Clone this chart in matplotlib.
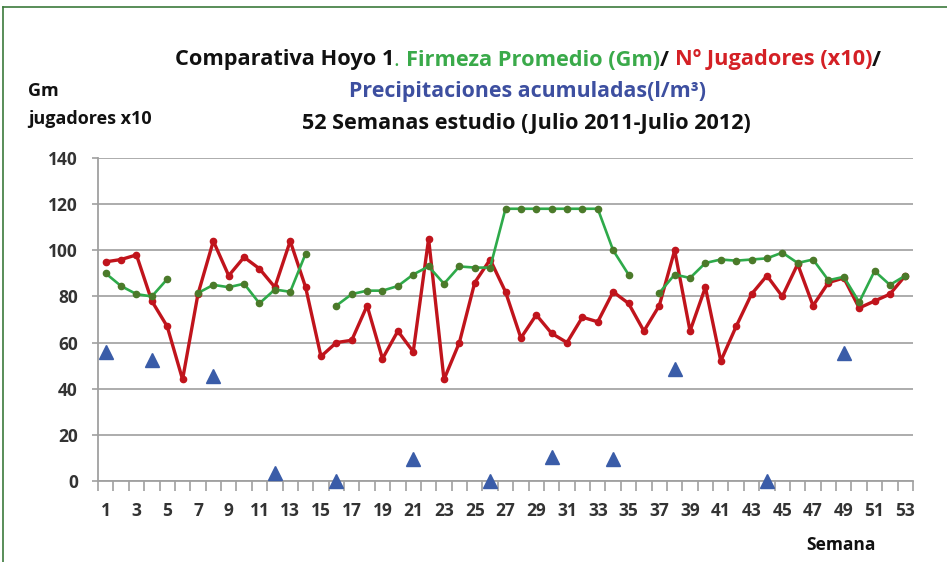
import numpy as np
import matplotlib.pyplot as plt

nan = np.nan

semanas = list(range(1, 54))

# Nº jugadores (x10)
jugadores = [95, 96, 98, 78, 67, 44, 81, 104, 89, 97,
             92, 84, 104, 84, 54, 60, 61, 76, 53, 65,
             56, 105, 44, 60, 86, 96, 82, 62, 72, 64,
             60, 71, 69, 82, 77, 65, 76, 100, 65, 84,
             52, 67, 81, 89, 80, 94, 76, 86, 88, 75,
             78, 81, 89]

# Firmeza promedio (Gm)
firmeza = [90, 84.5, 81, 80, 87.5, nan, 81.5, 85, 84, 85.5,
           77, 83, 82, 98.5, nan, 76, 81, 82.5, 82.5, 84.5,
           89.5, 93, 85.5, 93, 92.5, 92.5, 118, 118, 118, 118,
           118, 118, 118, 100, 89.5, nan, 81.5, 89.5, 88, 94.5,
           96, 95.5, 96, 96.5, 99, 94.5, 96, 87, 88.5, 77.5,
           91, 85, 89]

# Precipitaciones acumuladas (l/m3)
precip_semanas = [1, 4, 8, 12, 16, 21, 26, 30, 34, 38, 44, 49]
precip_valores = [56, 52.5, 45.5, 3.5, 0, 9.5, 0, 10.5, 9.5, 48.5, 0, 55.5]

FONT = 'Open Sans'
plt.rcParams['font.family'] = [FONT, 'DejaVu Sans']

fig = plt.figure(figsize=(9.47, 5.62), dpi=100)
ax = fig.add_axes([98 / 947, 81 / 562, 815 / 947, 323 / 562])

ax.plot(semanas, jugadores, '-o', color='#C0141C', lw=2.4, markersize=4.5, zorder=3)
ax.plot(semanas, firmeza, '-', color='#2EAA4A', lw=1.9, zorder=4)
ax.plot(semanas, firmeza, 'o', color='#4B7A2A', markersize=4.5, zorder=4)
ax.plot(precip_semanas, precip_valores, '^', color='#3A5CA8', markersize=9.5,
        linestyle='none', zorder=5, clip_on=False)

ax.set_xlim(0.5, 53.5)
ax.set_ylim(0, 140)
ax.set_yticks(range(0, 141, 20))
ax.set_xticks(semanas[::2])
ax.set_xticks(np.arange(0.5, 54, 1), minor=True)
ax.tick_params(axis='x', which='major', length=0, pad=15, labelsize=12.5,
               labelcolor='#333333')
ax.tick_params(axis='x', which='minor', length=7, width=1.2, color='#A0A0A0',
               direction='out')
ax.tick_params(axis='y', length=4.5, width=1.2, color='#A0A0A0', pad=10,
               labelsize=12.5, labelcolor='#333333')
for lab in ax.get_xticklabels() + ax.get_yticklabels():
    lab.set_fontweight('bold')

ax.grid(True, axis='y', color='#A6A6A6', lw=1.3)
ax.set_axisbelow(True)
for s in ['top', 'right']:
    ax.spines[s].set_visible(False)
for s in ['left', 'bottom']:
    ax.spines[s].set_color('#A0A0A0')
    ax.spines[s].set_linewidth(1.3)

# outer frame (partly cropped in the original)
fig.add_artist(plt.Line2D([3 / 947, 3 / 947], [0, 1 - 7 / 562], color='#3C7A3C',
                          lw=1.2, transform=fig.transFigure))
fig.add_artist(plt.Line2D([3 / 947, 1], [1 - 7 / 562, 1 - 7 / 562], color='#3C7A3C',
                          lw=1.2, transform=fig.transFigure))


def multicolor_line(parts, xc, y, size):
    renderer = fig.canvas.get_renderer()
    texts = []
    for txt, col, w in parts:
        t = fig.text(0, y, txt, color=col, fontsize=size, fontweight=w,
                     va='center', ha='left')
        texts.append(t)
    widths = [t.get_window_extent(renderer).width for t in texts]
    total = sum(widths)
    x = xc * 947 - total / 2
    for t, w in zip(texts, widths):
        t.set_x(x / 947)
        x += w


multicolor_line([('Comparativa Hoyo 1', '#111111', 'bold'),
                 ('. ', '#3AAA4A', 'normal'),
                 ('Firmeza Promedio (Gm)', '#3AAA4A', 'bold'),
                 ('/ ', '#111111', 'bold'),
                 ('Nº Jugadores (x10)', '#D42025', 'bold'),
                 ('/', '#111111', 'bold')], 528 / 947, 1 - 60 / 562, 15.7)
fig.text(527 / 947, 1 - 92 / 562, 'Precipitaciones acumuladas(l/m³)', color='#3D4FA0',
         fontsize=15.4, fontweight='bold', ha='center', va='center')
fig.text(526 / 947, 1 - 123 / 562, '52 Semanas estudio (Julio 2011-Julio 2012)',
         color='#111111', fontsize=15.6, fontweight='bold', ha='center', va='center')

fig.text(28 / 947, 1 - 91 / 562, 'Gm', color='#111111', fontsize=13,
         fontweight='bold', ha='left', va='center')
fig.text(28 / 947, 1 - 119 / 562, 'jugadores x10', color='#111111', fontsize=13,
         fontweight='bold', ha='left', va='center')
fig.text(841 / 947, 1 - 545 / 562, 'Semana', color='#111111', fontsize=12.5,
         fontweight='bold', ha='center', va='center')

plt.savefig('out.png', dpi=100)
